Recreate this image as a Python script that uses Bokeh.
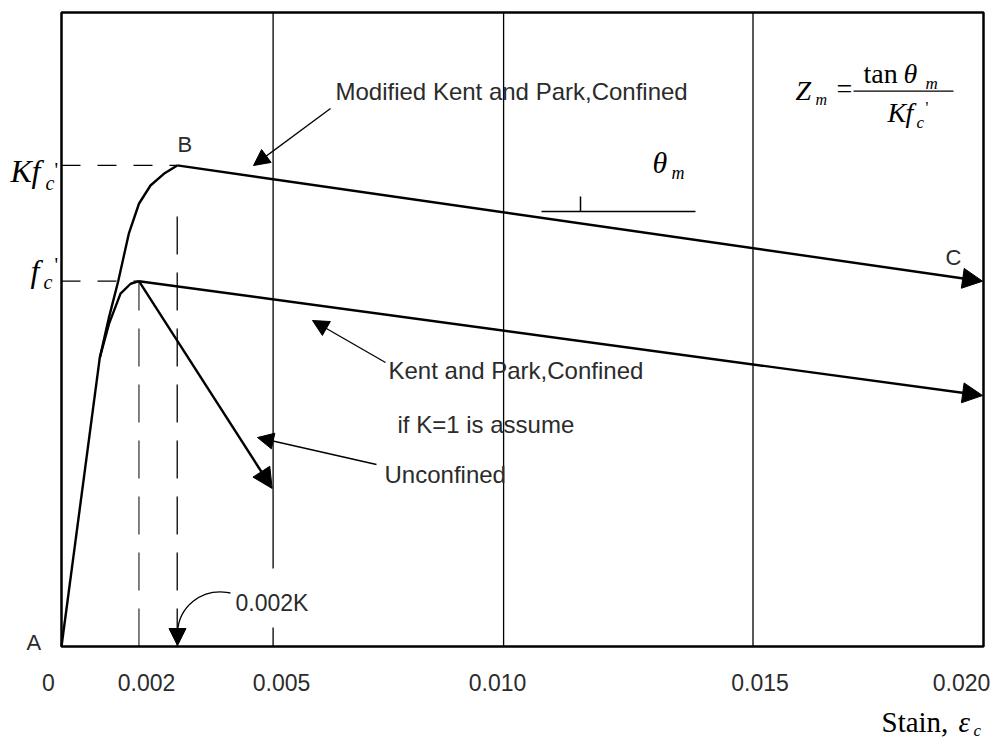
import numpy as np
from bokeh.plotting import figure
from bokeh.models import Range1d, Arrow, NormalHead, Label, ColumnDataSource, BoxAnnotation
from bokeh.embed import file_html
from bokeh.resources import INLINE

# ---------------- data (strain, stress normalised by f'c) ----------------
K = 1.317
lin_x = [0.0, 0.00083]
lin_y = [0.0, 0.79]
unc_x = [0.00083, 0.00103, 0.00128, 0.00150, 0.00168]
unc_y = [0.79, 0.883, 0.966, 0.993, 1.0]
mod_x = [0.00083, 0.00103, 0.00123, 0.00146, 0.00168, 0.00193, 0.00222, 0.00251]
mod_y = [0.79, 0.901, 1.0, 1.130, 1.212, 1.262, 1.294, 1.317]
desc_x0 = [0.00168, 0.00168, 0.00251]
desc_y0 = [1.0, 1.0, 1.317]
desc_x1 = [0.00457, 0.01998, 0.01998]
desc_y1 = [0.4325, 0.687, 1.0]
eps0 = 0.00168
eps0K = 0.00251
eps_max = 0.020
stress_max = 1.7356
grid_x = [0.00459, 0.00959, 0.01500]
tick_labels = ["0", "0.002", "0.005", "0.010", "0.015", "0.020"]

# ---------------- layout helpers (image pixel -> data) ----------------
def X(px):
    return (px - 61) / 46100.0

def Y(py):
    return (646 - py) / 365.3

W, H = 1000, 741
p = figure(width=W, height=H, output_backend="svg", toolbar_location=None,
           x_range=Range1d(X(0), X(W)), y_range=Range1d(Y(H), Y(0)),
           min_border=0, min_border_left=0, min_border_right=0,
           min_border_top=0, min_border_bottom=0)
p.xaxis.visible = False
p.yaxis.visible = False
p.grid.visible = False
p.outline_line_color = None
p.background_fill_color = "white"
p.border_fill_color = "white"

# vertical lines
for gx in grid_x:
    p.line([gx, gx], [0, stress_max], line_color="black", line_width=1.3)

# dashed reference lines
p.line([0, eps0K], [K, K], line_color="black", line_width=1.3, line_dash="19 17")
p.line([0, eps0], [1.0, 1.0], line_color="black", line_width=1.3, line_dash="19 17")
p.line([eps0, eps0], [0, 1.0], line_color="#555555", line_width=1.5, line_dash="38 18")
p.line([eps0K, eps0K], [0, Y(203)], line_color="black", line_width=1.3, line_dash="38 18")

# frame
p.quad(left=[0], right=[eps_max], bottom=[0], top=[stress_max],
       fill_alpha=0, line_color="black", line_width=2.5)

# curves
p.line(lin_x, lin_y, line_color="black", line_width=2.4)
p.line(unc_x, unc_y, line_color="black", line_width=2.4)
p.line(mod_x, mod_y, line_color="black", line_width=2.4)

src = ColumnDataSource(dict(x0=desc_x0, y0=desc_y0, x1=desc_x1, y1=desc_y1))
p.add_layout(Arrow(end=NormalHead(size=20, fill_color="black", line_color="black"),
                   x_start="x0", y_start="y0", x_end="x1", y_end="y1", source=src,
                   line_color="black", line_width=2.4))

# pointer arrows
def pointer(x0, y0, x1, y1, size=16):
    p.add_layout(Arrow(end=NormalHead(size=size, fill_color="black", line_color="black"),
                       x_start=X(x0), y_start=Y(y0), x_end=X(x1), y_end=Y(y1),
                       line_color="black", line_width=1.3))

pointer(330, 108, 253, 165)
pointer(385, 362, 312, 320)
pointer(376, 464, 257, 437)

# theta angle marker
p.line([X(541), X(695)], [Y(211), Y(211)], line_color="black", line_width=1.5)
p.line([X(580), X(580)], [Y(196), Y(211)], line_color="black", line_width=1.5)

# fraction bar
p.line([X(853), X(953)], [Y(90.7), Y(90.7)], line_color="black", line_width=1.2)

# 0.002K label box and curved pointer
p.add_layout(BoxAnnotation(left=X(230), right=X(310), bottom=Y(627), top=Y(568),
                           fill_color="white", fill_alpha=1.0, line_alpha=0))
p.bezier(x0=[X(233)], y0=[Y(593)], x1=[X(177)], y1=[Y(632)],
         cx0=[X(200)], cy0=[Y(585)], cx1=[X(178)], cy1=[Y(608)],
         line_color="black", line_width=1.3)
pointer(177, 628, 177, 645, size=17)

SANS = "Liberation Sans"
SERIF = "Liberation Serif"
TXT = "#2b2b2b"

def lab(px, py, text, size, font=SANS, style="normal", align="left", color=TXT):
    # py is the text baseline in image pixels; place by its middle
    p.add_layout(Label(x=X(px), y=Y(py - 0.35 * size), text=text, text_font=font,
                       text_font_size=f"{size}px", text_font_style=style,
                       text_align=align, text_baseline="middle", text_color=color))

# sans labels
lab(335, 99, "Modified Kent and Park,Confined", 24)
lab(388, 378, "Kent and Park,Confined", 24)
lab(397, 432, "if K=1 is assume", 24)
lab(384, 482, "Unconfined", 24)
lab(235, 611, "0.002K", 23)
lab(177, 152, "B", 22)
lab(945, 265, "C", 22)
lab(26, 650, "A", 22)

# tick labels
tick_px = [48, 146, 281, 497, 759.5, 961]
for tp, tl in zip(tick_px, tick_labels):
    lab(tp, 690, tl, 23, align="center")

# axis title
lab(881, 732, "Stain,", 29, font=SERIF, color="black")
lab(958, 732, "ε", 29, font=SERIF, style="italic", color="black")
lab(973, 736, "c", 17, font=SERIF, style="italic", color="black")

# y-axis math labels
lab(10, 182, "K", 32, font=SERIF, style="italic", color="black")
lab(31, 182, "f", 32, font=SERIF, style="italic", color="black")
lab(45, 189, "c", 20, font=SERIF, style="italic", color="black")
lab(54, 176, "'", 20, font=SERIF, color="black")
lab(30, 282, "f", 32, font=SERIF, style="italic", color="black")
lab(43, 288, "c", 20, font=SERIF, style="italic", color="black")
lab(54, 271, "'", 20, font=SERIF, color="black")

# formula
lab(795, 100, "Z", 28, font=SERIF, style="italic", color="black")
lab(815, 105, "m", 16, font=SERIF, style="italic", color="black")
lab(836, 98, "=", 28, font=SERIF, color="black")
lab(863, 83, "tan", 28, font=SERIF, color="black")
lab(903, 83, "θ", 28, font=SERIF, style="italic", color="black")
lab(925, 89, "m", 17, font=SERIF, style="italic", color="black")
lab(887, 122, "K", 28, font=SERIF, style="italic", color="black")
lab(905, 122, "f", 28, font=SERIF, style="italic", color="black")
lab(916, 128, "c", 17, font=SERIF, style="italic", color="black")
lab(925, 113, "'", 16, font=SERIF, color="black")

# theta label
lab(652, 172, "θ", 30, font=SERIF, style="italic", color="black")
lab(671, 179, "m", 18, font=SERIF, style="italic", color="black")

open("out.html", "w").write(file_html(p, INLINE))
